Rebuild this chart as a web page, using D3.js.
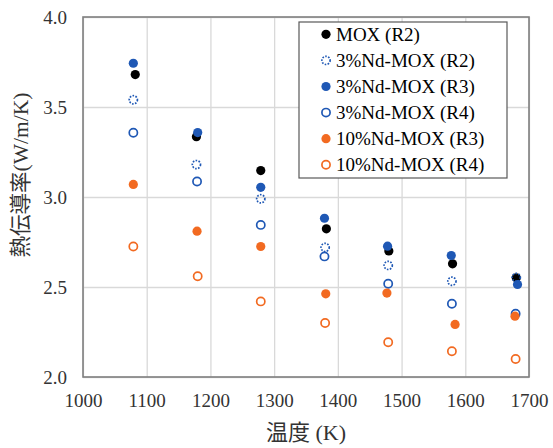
<!DOCTYPE html>
<html>
<head>
<meta charset="utf-8">
<script src="https://cdn.jsdelivr.net/npm/d3@7"></script>
<style>
  body { margin:0; background:#fff; }
</style>
</head>
<body>
<div id="plot"></div>
<script>
// data
var seriesNames = ['MOX (R2)','3%Nd-MOX (R2)','3%Nd-MOX (R3)','3%Nd-MOX (R4)','10%Nd-MOX (R3)','10%Nd-MOX (R4)'];

var moxR2_T = [1082,1178,1279,1382,1480,1580,1680],
    moxR2_k = [3.68,3.335,3.147,2.823,2.70,2.629,2.551];
var nd3R2_T = [1079,1178,1279,1380,1479,1579,1680],
    nd3R2_k = [3.54,3.18,2.99,2.72,2.62,2.532,2.553];
var nd3R3_T = [1079,1180,1279,1379,1478,1578,1682],
    nd3R3_k = [3.743,3.358,3.054,2.882,2.727,2.675,2.514];
var nd3R4_T = [1079,1179,1279,1379,1479,1579,1679],
    nd3R4_k = [3.357,3.086,2.845,2.67,2.518,2.407,2.351];
var nd10R3_T = [1079,1179,1279,1381,1477,1584,1678],
    nd10R3_k = [3.07,2.81,2.725,2.462,2.466,2.292,2.338];
var nd10R4_T = [1079,1180,1279,1380,1479,1579,1679],
    nd10R4_k = [2.725,2.56,2.42,2.30,2.193,2.143,2.10];

var xTicks = [1000,1100,1200,1300,1400,1500,1600,1700];
var yTicks = [2.0,2.5,3.0,3.5,4.0];

var FONT = 'Liberation Serif, Tinos, Times New Roman, Times, DejaVu Serif, Noto Sans CJK JP, serif';

var blue = '#1f58b5', orange = '#f26a21';
// marker style per series: fill, stroke, dashed
var styles = [
  {fill:'#000', stroke:'none', dash:null},
  {fill:'none', stroke:blue, dash:'1.6,1.4'},
  {fill:blue, stroke:'none', dash:null},
  {fill:'none', stroke:blue, dash:null},
  {fill:orange, stroke:'none', dash:null},
  {fill:'none', stroke:orange, dash:null}
];

var series = [
  [moxR2_T, moxR2_k], [nd3R2_T, nd3R2_k], [nd3R3_T, nd3R3_k],
  [nd3R4_T, nd3R4_k], [nd10R3_T, nd10R3_k], [nd10R4_T, nd10R4_k]
].map(function(s, i){
  return {name:seriesNames[i], style:styles[i],
          pts:s[0].map(function(t, j){ return {t:t, k:s[1][j]}; })};
});

var margin = {t:17,r:24,b:71,l:83};
var W = 553, H = 448;
var width = W - margin.l - margin.r,
    height = H - margin.t - margin.b;

var svg = d3.select('#plot').append('svg')
    .attr('width',W).attr('height',H)
    .attr('font-family',FONT);

var plot = svg.append('g')
    .attr('transform','translate('+margin.l+','+margin.t+')');

var x = d3.scaleLinear().domain([1000,1700]).range([0,width]);
var y = d3.scaleLinear().domain([2.0,4.0]).range([height,0]);

// axes + gridlines
var xAxis = plot.append('g')
    .attr('transform','translate(0,'+height+')')
    .call(d3.axisBottom(x).tickValues(xTicks).tickFormat(d3.format('d'))
      .tickSizeInner(-height).tickSizeOuter(0).tickPadding(17));
var yAxis = plot.append('g')
    .call(d3.axisLeft(y).tickValues(yTicks).tickFormat(d3.format('.1f'))
      .tickSizeInner(-width).tickSizeOuter(0).tickPadding(16));

[xAxis, yAxis].forEach(function(a){
  a.attr('font-family',FONT).attr('font-size',19);
  a.select('.domain').remove();
  a.selectAll('.tick line').attr('stroke','#d9d9d9').attr('stroke-width',1.3);
  a.selectAll('.tick text').attr('fill','#333');
});

// plot border
plot.append('rect')
    .attr('width',width).attr('height',height)
    .attr('fill','none').attr('stroke','#7f7f7f').attr('stroke-width',1.6);

// markers
function drawMarker(sel, st){
  sel.attr('r', st.stroke === 'none' ? 4.6 : 4.1)
     .attr('fill', st.fill)
     .attr('stroke', st.stroke)
     .attr('stroke-width', st.stroke === 'none' ? 0 : 1.7)
     .attr('stroke-dasharray', st.dash);
}

series.forEach(function(s){
  plot.append('g').selectAll('circle')
    .data(s.pts).enter().append('circle')
    .attr('cx',function(d){ return x(d.t); })
    .attr('cy',function(d){ return y(d.k); })
    .call(drawMarker, s.style);
});

// legend
var legend = svg.append('g').attr('transform','translate(299,22)');
legend.append('rect')
    .attr('width',208).attr('height',156)
    .attr('fill','#fff').attr('stroke','#595959').attr('stroke-width',1.2);

var item = legend.selectAll('.item').data(series).enter().append('g')
    .attr('transform',function(d,i){ return 'translate(0,'+(12.3+i*26.1)+')'; });
item.append('circle').attr('cx',27).attr('cy',0)
    .each(function(d){ d3.select(this).call(drawMarker, d.style); });
item.append('text')
    .attr('x',37).attr('y',0).attr('dy','0.35em')
    .attr('font-size',19).attr('fill','#000')
    .text(function(d){ return d.name; });

// axis titles
svg.append('text')
    .attr('x',margin.l+width/2).attr('y',440)
    .attr('text-anchor','middle')
    .attr('font-size',22).attr('fill','#333')
    .text('温度 (K)');

svg.append('text')
    .attr('transform','translate(20,175) rotate(-90)')
    .attr('text-anchor','middle').attr('dy','0.35em')
    .attr('font-size',21.5).attr('fill','#333')
    .text('熱伝導率(W/m/K)');
</script>
</body>
</html>
